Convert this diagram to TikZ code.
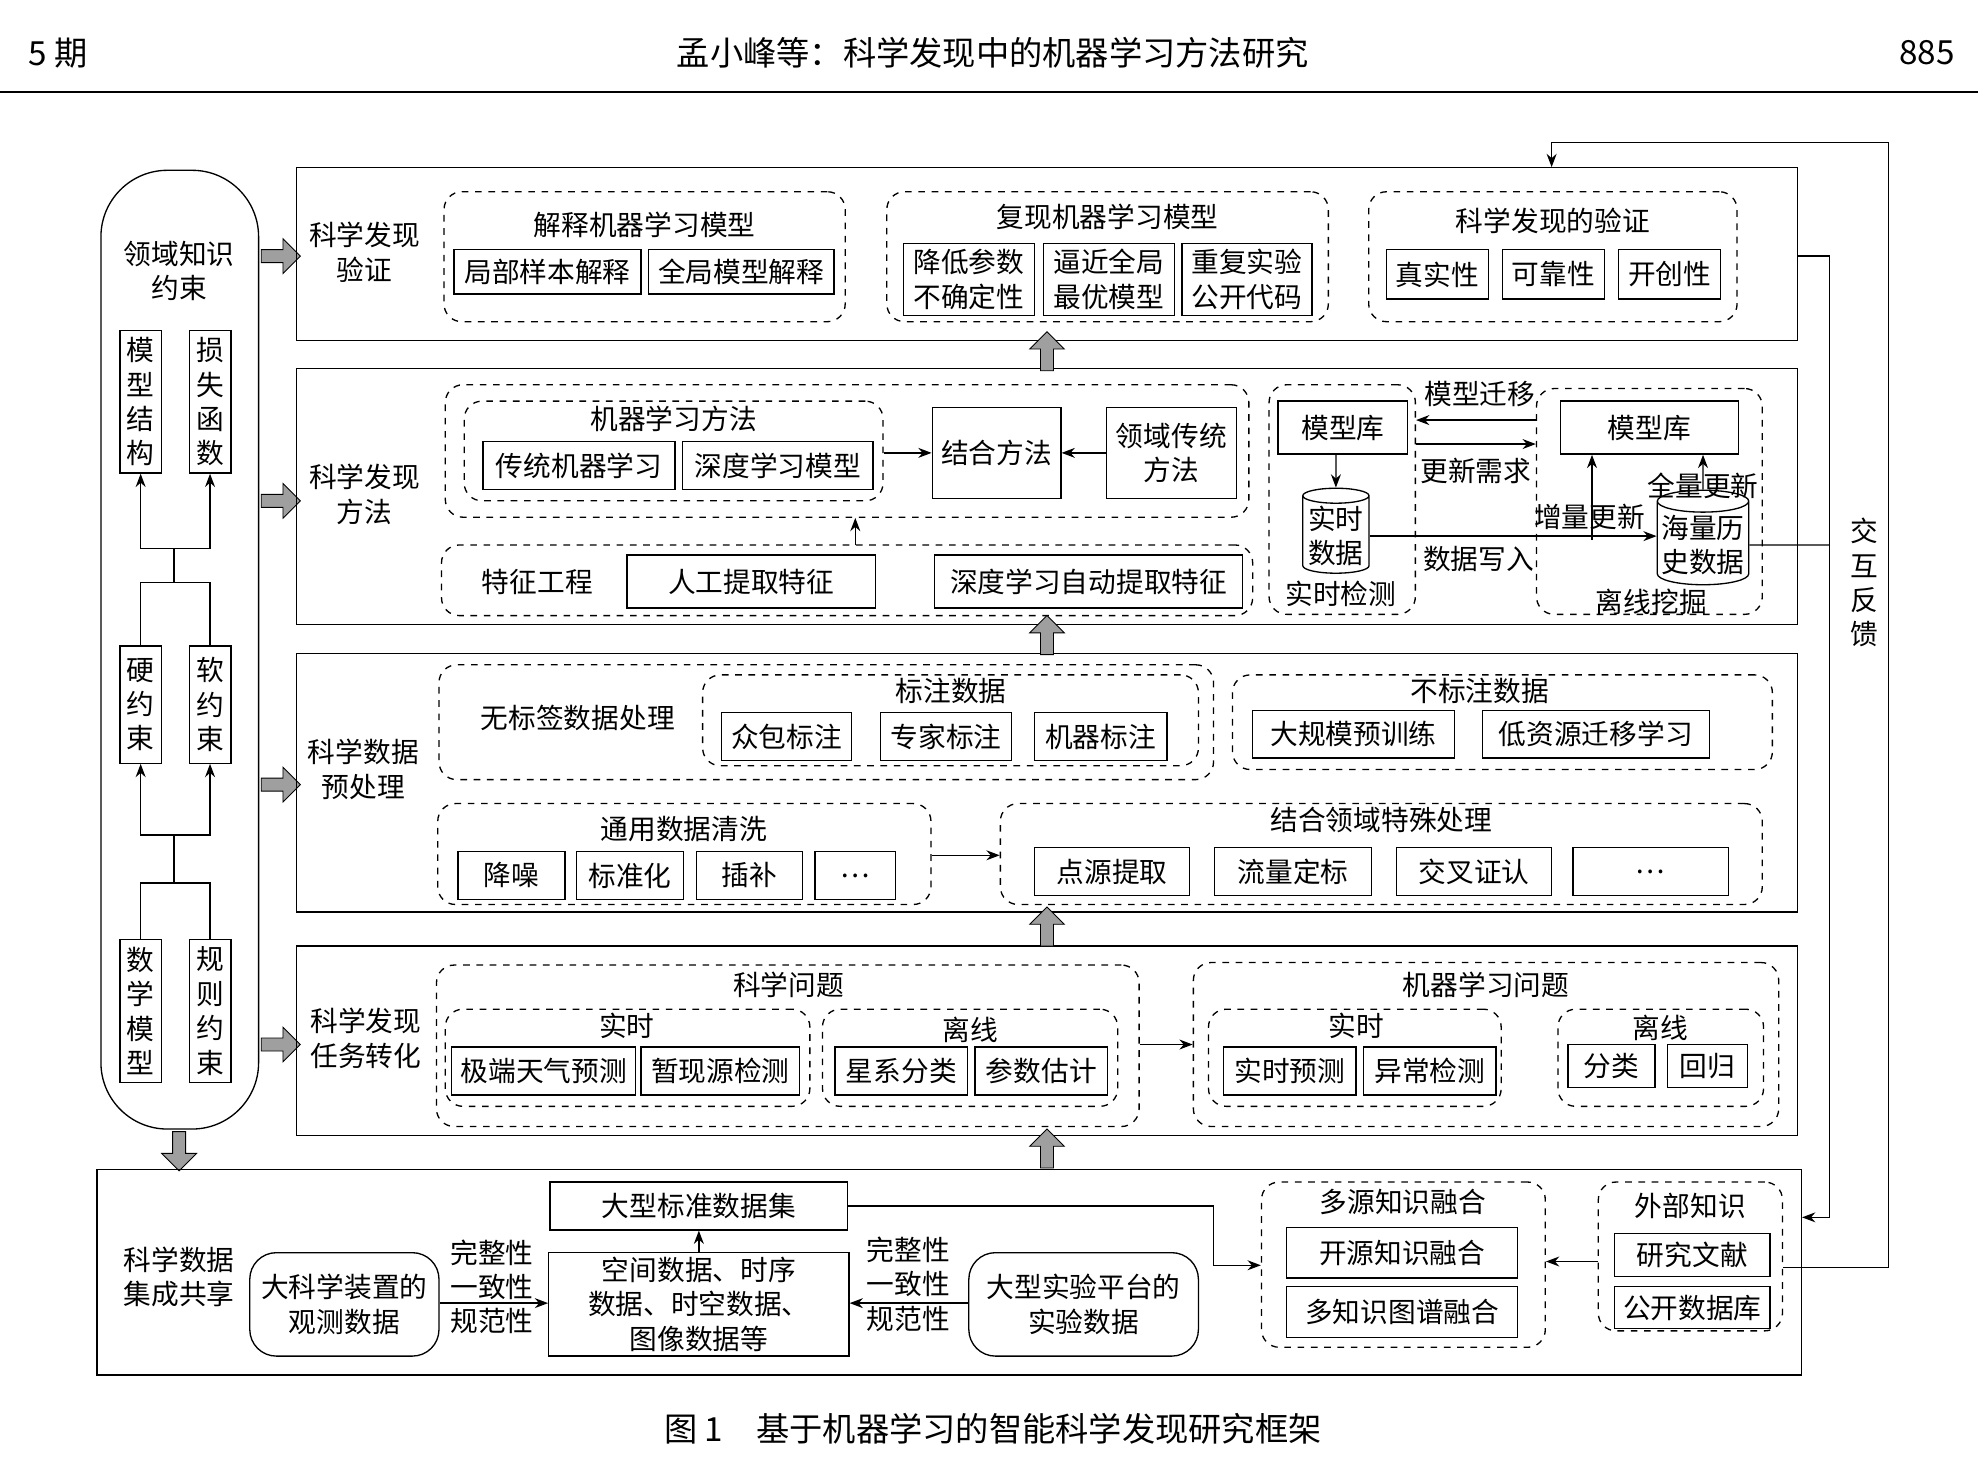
\documentclass[tikz,border=0pt]{standalone}
\usepackage{fontspec}
\setmainfont{Noto Sans CJK SC}
\usetikzlibrary{arrows.meta,calc,fit,positioning,shapes.geometric,shapes.arrows}
\tikzset{
	box/.style={draw,semithick,inner sep=0pt},
	rbox/.style={box,rounded corners=12pt},
	dbox/.style={draw,semithick,dashed,rounded corners=8pt,inner sep=0pt},
	frame/.style={draw,semithick,inner sep=0pt},
	txt/.style={font=\fontsize{12.5}{15.5}\selectfont,align=center,inner sep=1pt},
	ttl/.style={font=\fontsize{15}{18}\selectfont,inner sep=0pt},
	ar/.style={-{Stealth[length=6pt]},semithick},
	fat/.style={single arrow,draw,fill=gray!75,minimum height=0.62cm,single arrow head extend=2.5pt,minimum width=0.55cm,inner sep=1.3pt,line width=0.4pt},
	fatup/.style={fat,shape border rotate=90}
}
% box with text: [style]{name}{corner}{corner}{text}
\newcommand\bx[5][box]{\node[#1,fit={(#3)(#4)}] (#2) {};\node[txt] at (#2.center) {#5};}
\begin{document}
\begin{tikzpicture}[x=0.02cm,y=-0.02cm]
\useasboundingbox (0,0) rectangle (1568,1160);
% header
\node[ttl,anchor=west] (hd1) at (22,42) {5 期};
\node[ttl] (hd2) at (787,42) {孟小峰等：科学发现中的机器学习方法研究};
\node[ttl,anchor=east] (hd3) at (1550,42) {885};
\draw[semithick] (0,73) -- (1568,73);
\node[ttl] (cap) at (787,1133) {图 1\quad 基于机器学习的智能科学发现研究框架};

% left column
\node[draw,semithick,rounded corners=30pt,fit={(80,135)(205,895)},inner sep=0pt] (col) {};
\node[txt] (dk) at (142,215) {领域知识\\约束};
\bx{mj}{95,262}{128,375}{模\\型\\结\\构}
\bx{ss}{150,262}{183,375}{损\\失\\函\\数}
\bx{yy}{95,512}{128,605}{硬\\约\\束}
\bx{ry}{150,512}{183,605}{软\\约\\束}
\bx{sx}{95,745}{128,858}{数\\学\\模\\型}
\bx{gz}{150,745}{183,858}{规\\则\\约\\束}
\draw[semithick] (sx.north) |- (138,700) -| (gz.north) (138,700) -- (138,662) coordinate (t1);
\draw[ar] (t1) -| (yy.south); \draw[ar] (t1) -| (ry.south);
\draw[semithick] (yy.north) |- (138,462) -| (ry.north) (138,462) -- (138,435) coordinate (t2);
\draw[ar] (t2) -| (mj.south); \draw[ar] (t2) -| (ss.south);
\foreach \y/\n in {203/a1,397/a2,622/a3,828/a4} \node[fat] (\n) at (220,\y) {};
\node[fat,shape border rotate=270] (a5) at (142,910) {};

% row 1
\node[frame,fit={(235,133)(1425,270)}] (r1) {};
\node[txt] (l1) at (289,200) {科学发现\\验证};
\node[dbox,fit={(352,152)(670,255)}] (g11) {};
\node[txt] at (511,178) {解释机器学习模型};
\bx{jb}{360,198}{508,233}{局部样本解释}
\bx{qm}{514,198}{661,233}{全局模型解释}
\node[dbox,fit={(703,152)(1053,255)}] (g12) {};
\node[txt] at (878,172) {复现机器学习模型};
\bx{jd}{716,193}{820,250}{降低参数\\不确定性}
\bx{bj}{827,193}{931,250}{逼近全局\\最优模型}
\bx{cf}{937,193}{1040,250}{重复实验\\公开代码}
\node[dbox,fit={(1085,152)(1377,255)}] (g13) {};
\node[txt] at (1231,175) {科学发现的验证};
\bx{zs}{1099,198}{1180,237}{真实性}
\bx{kk}{1191,198}{1272,237}{可靠性}
\bx{kc}{1283,198}{1364,237}{开创性}

% row 2
\node[frame,fit={(235,292)(1425,495)}] (r2) {};
\node[txt] (l2) at (289,392) {科学发现\\方法};
\node[dbox,fit={(353,305)(990,410)}] (g21) {};
\node[dbox,fit={(368,318)(700,397)}] (g22) {};
\node[txt] at (534,332) {机器学习方法};
\bx{ct}{383,350}{535,388}{传统机器学习}
\bx{sd}{541,350}{692,388}{深度学习模型}
\bx{jh}{739,323}{841,395}{结合方法}
\bx{ly}{877,323}{980,395}{领域传统\\方法}
\draw[ar] (g22.east|-jh) -- (jh.west);
\draw[ar] (ly.west) -- (jh.east);
\node[dbox,fit={(350,432)(993,488)}] (g23) {};
\node[txt] at (426,461) {特征工程};
\bx{rg}{497,440}{694,482}{人工提取特征}
\bx{zd}{741,440}{985,482}{深度学习自动提取特征}
\draw[ar] (678,432) -- (g21.south-|678,0);
\node[dbox,fit={(1006,305)(1122,487)}] (g24) {};
\bx{mk1}{1013,318}{1116,360}{模型库}
\node[draw,semithick,cylinder,shape border rotate=90,aspect=0.25,minimum width=1.05cm,minimum height=1.2cm,inner sep=0pt,txt] (ss1) at (1059,425) {实时\\数据};
\node[txt] at (1063,471) {实时检测};
\draw[ar] (mk1.south-|ss1) -- (ss1.north);
\node[dbox,fit={(1218,308)(1397,487)}] (g25) {};
\bx{mk2}{1237,318}{1378,360}{模型库}
\node[draw,semithick,cylinder,shape border rotate=90,aspect=0.25,minimum width=1.45cm,minimum height=1.2cm,inner sep=0pt,txt] (ss2) at (1350,432) {海量历\\史数据};
\node[txt] at (1309,477) {离线挖掘};
\node[txt] (qy) at (1173,312) {模型迁移};
\node[txt] (gx) at (1170,373) {更新需求};
\node[txt] (xr) at (1172,443) {数据写入};
\node[txt] (zl) at (1260,410) {增量更新};
\node[txt] (ql) at (1350,385) {全量更新};
\draw[ar] (g25.west|-0,333) -- (g24.east|-0,333);
\draw[ar] (g24.east|-0,352) -- (g25.west|-0,352);
\draw[ar] (ss1.east) -- (ss1.east-|ss2.west);
\draw[ar] (1262,428) -- (mk2.south-|1262,0);
\draw[ar] (ss2.north) -- (mk2.south-|ss2);

% row 3
\node[frame,fit={(235,518)(1425,723)}] (r3) {};
\node[txt] (l3) at (288,610) {科学数据\\预处理};
\node[dbox,fit={(348,527)(962,618)}] (g31) {};
\node[txt] at (458,569) {无标签数据处理};
\node[dbox,fit={(557,535)(950,607)}] (g32) {};
\node[txt] at (754,548) {标注数据};
\bx{zb}{572,565}{675,603}{众包标注}
\bx{zj}{698,565}{802,603}{专家标注}
\bx{jq}{820,565}{925,603}{机器标注}
\node[dbox,fit={(977,535)(1405,610)}] (g33) {};
\node[txt] at (1173,548) {不标注数据};
\bx{dg}{993,563}{1153,601}{大规模预训练}
\bx{dz}{1175,563}{1355,601}{低资源迁移学习}
\node[dbox,fit={(347,637)(738,717)}] (g34) {};
\node[txt] at (542,657) {通用数据清洗};
\bx{jz}{363,675}{448,713}{降噪}
\bx{bz}{457,675}{542,713}{标准化}
\bx{cb}{552,675}{636,713}{插补}
\bx{dd1}{646,675}{710,713}{…}
\node[dbox,fit={(793,637)(1397,717)}] (g35) {};
\node[txt] at (1095,650) {结合领域特殊处理};
\bx{dy}{820,672}{943,710}{点源提取}
\bx{ll}{963,672}{1087,710}{流量定标}
\bx{jc}{1107,672}{1230,710}{交叉证认}
\bx{dd2}{1247,672}{1370,710}{…}
\draw[ar] (g34.east|-0,678) -- (g35.west|-0,678);

% row 4
\node[frame,fit={(235,750)(1425,900)}] (r4) {};
\node[txt] (l4) at (290,823) {科学发现\\任务转化};
\node[dbox,fit={(346,765)(903,893)}] (g41) {};
\node[txt] at (625,781) {科学问题};
\node[dbox,fit={(353,800)(642,877)}] (g42) {};
\node[txt] at (497,813) {实时};
\bx{jd2}{358,830}{504,868}{极端天气预测}
\bx{zx}{508,830}{634,868}{暂现源检测}
\node[dbox,fit={(652,800)(886,877)}] (g43) {};
\node[txt] at (769,816) {离线};
\bx{xx}{662,830}{767,868}{星系分类}
\bx{cs}{773,830}{878,868}{参数估计}
\node[dbox,fit={(946,763)(1410,893)}] (g44) {};
\node[txt] at (1178,781) {机器学习问题};
\node[dbox,fit={(958,800)(1190,877)}] (g45) {};
\node[txt] at (1075,813) {实时};
\bx{sy}{970,830}{1075,868}{实时预测}
\bx{yc}{1081,830}{1186,868}{异常检测}
\node[dbox,fit={(1235,800)(1398,877)}] (g46) {};
\node[txt] at (1316,815) {离线};
\bx{fl}{1243,828}{1312,862}{分类}
\bx{hg}{1322,828}{1385,862}{回归}
\draw[ar] (g41.east|-0,828) -- (g44.west|-0,828);

% row 5
\node[frame,fit={(77,927)(1428,1090)}] (r5) {};
\node[txt] (l5) at (142,1012) {科学数据\\集成共享};
\bx[rbox]{dk1}{198,993}{348,1075}{大科学装置的\\观测数据}
\bx[rbox]{dk2}{768,993}{950,1075}{大型实验平台的\\实验数据}
\bx{kj}{435,993}{673,1075}{空间数据、时序\\数据、时空数据、\\图像数据等}
\bx{bzs}{436,937}{672,975}{大型标准数据集}
\draw[ar] (kj.north) -- (bzs.south);
\node[txt,align=left] (wz1) at (390,1020) {完整性\\一致性\\规范性};
\node[txt,align=left] (wz2) at (720,1018) {完整性\\一致性\\规范性};
\draw[ar] (dk1.east|-0,1033) -- (kj.west|-0,1033);
\draw[ar] (dk2.west|-0,1033) -- (kj.east|-0,1033);
\node[dbox,fit={(1000,937)(1225,1068)}] (g51) {};
\node[txt] at (1112,953) {多源知识融合};
\bx{ky}{1020,973}{1203,1013}{开源知识融合}
\bx{dz2}{1020,1020}{1203,1060}{多知识图谱融合}
\node[dbox,fit={(1267,937)(1413,1055)}] (g52) {};
\node[txt] at (1340,956) {外部知识};
\bx{yj}{1280,978}{1403,1012}{研究文献}
\bx{gk}{1280,1020}{1403,1053}{公开数据库}
\draw[ar] (g52.west|-0,1000) -- (g51.east|-0,1000);
\draw[ar] (bzs.east) -| (962,1003) -- (g51.west|-0,1003);

% fat arrows between rows
\node[fatup] (u1) at (830,281) {};
\node[fatup] (u2) at (830,506) {};
\node[fatup] (u3) at (830,737) {};
\node[fatup] (u4) at (830,913) {};

% feedback
\draw[ar] (r1.east|-0,203) -- (1450,203) |- (r5.east|-0,965);
\draw[semithick] (ss2.east) -- (1450,432);
\draw[ar] (g52.east|-0,1005) -- (1497,1005) |- (1230,113) -- (r1.north-|1230,0);
\node[txt] (fk) at (1478,462) {交\\互\\反\\馈};
\end{tikzpicture}
\end{document}
